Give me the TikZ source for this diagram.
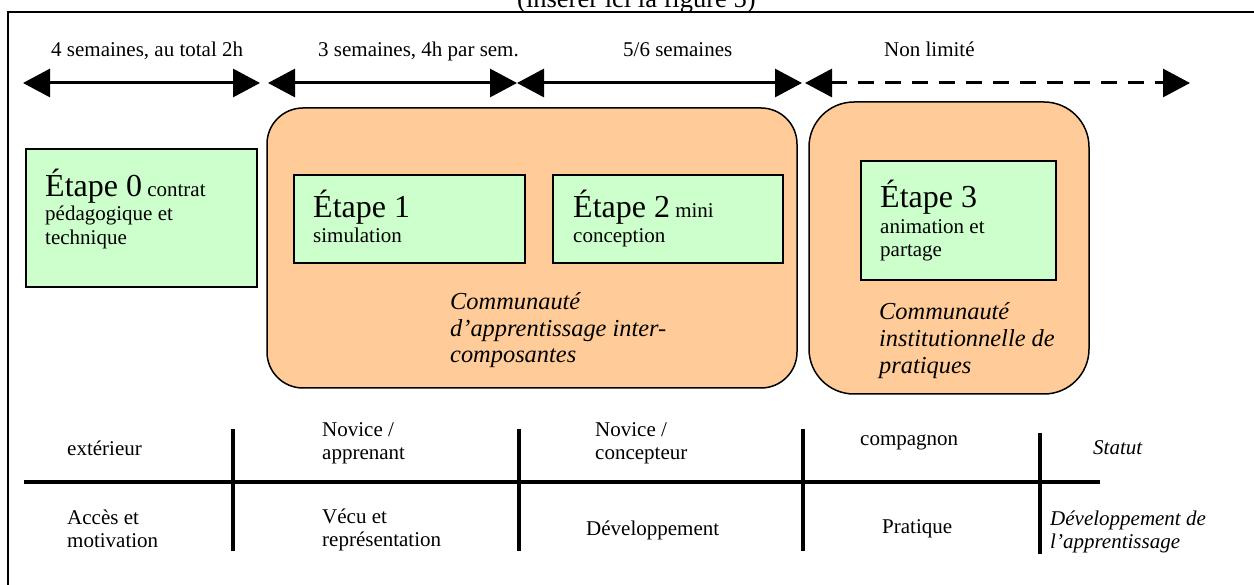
\documentclass[tikz,border=0pt]{standalone}
\usepackage{fontspec}
\setmainfont{Liberation Serif}
\usetikzlibrary{arrows.meta}
\definecolor{boxgreen}{HTML}{CCFFCC}
\definecolor{boxorange}{HTML}{FFCC99}
\newcommand{\EtapeFont}{\fontsize{32}{36}\selectfont}
\tikzset{
  txt/.style={inner sep=0pt, anchor=base west, font=\fontsize{21}{24}\selectfont},
  itxt/.style={inner sep=0pt, anchor=base west, font=\fontsize{21}{24}\selectfont\itshape},
  ctxt/.style={inner sep=0pt, anchor=base west, font=\fontsize{24.4}{27}\selectfont\itshape},
  ttl/.style={inner sep=0pt, anchor=base west, font=\fontsize{26.5}{30}\selectfont},
  stage/.style={draw=black, line width=1.8pt, fill=boxgreen},
  community/.style={draw=black, line width=1.5pt, fill=boxorange},
  span/.style={line width=3pt, {Triangle[length=27pt,width=28pt]}-{Triangle[length=27pt,width=28pt]}},
  divider/.style={line width=3.5pt},
  frameline/.style={line width=1.5pt},
}
\begin{document}
\begin{tikzpicture}[x=1pt,y=-1pt]
\useasboundingbox (0,0) rectangle (1254,585);
% frame
\draw[frameline] (8,12) rectangle (1275,610);
\node[ttl] (title) at (517,7.5) {(insérer ici la figure 5)};
% durations
\node[txt] (d0) at (51,57) {4 semaines, au total 2h};
\node[txt] (d1) at (318,57) {3 semaines, 4h par sem.};
\node[txt] (d2) at (623,57) {5/6 semaines};
\node[txt] (d3) at (884,57) {Non limité};
\coordinate (t0) at (23,83);
\coordinate (t1) at (260,83);
\coordinate (t2) at (268,83);
\coordinate (t3) at (517,83);
\coordinate (t4) at (802,83);
\coordinate (t5) at (805,83);
\coordinate (t6) at (1190,83);
\draw[span] (t0) -- (t1);
\draw[span] (t2) -- (t3);
\draw[span] (t3) -- (t4);
\draw[span, dash pattern=on 16pt off 11pt] (t5) -- (t6);
% communities
\path[community, rounded corners=36pt] (267,108) rectangle (797,388);
\path[community, rounded corners=45pt] (809,102) rectangle (1089,394);
% stages
\path[stage] (26,149) rectangle (257,287);
\path[stage] (294,175) rectangle (525,263);
\path[stage] (553,175) rectangle (783,263);
\path[stage] (861,161) rectangle (1056,280);
\node[txt] (e0a) at (45,197) {{\EtapeFont Étape 0} contrat};
\node[txt] (e0b) at (45,221) {pédagogique et};
\node[txt] (e0c) at (45,245) {technique};
\node[txt] (e1a) at (313,218) {{\EtapeFont Étape 1}};
\node[txt] (e1b) at (313,243) {simulation};
\node[txt] (e2a) at (573,218) {{\EtapeFont Étape 2} mini};
\node[txt] (e2b) at (573,243) {conception};
\node[txt] (e3a) at (880,208) {{\EtapeFont Étape 3}};
\node[txt] (e3b) at (880,234) {animation et};
\node[txt] (e3c) at (880,257) {partage};
\node[ctxt] (c1a) at (450,310) {Communauté};
\node[ctxt] (c1b) at (450,337) {d’apprentissage inter-};
\node[ctxt] (c1c) at (450,363) {composantes};
\node[ctxt] (c2a) at (879,320) {Communauté};
\node[ctxt] (c2b) at (879,347) {institutionnelle de};
\node[ctxt] (c2c) at (879,374) {pratiques};
% bottom table
\draw[line width=4pt] (24,482) -- (1100,482);
\draw[divider] (233,429) -- (233,551);
\draw[divider] (519,429) -- (519,551);
\draw[divider] (803,429) -- (803,551);
\draw[divider] (1040,433) -- (1040,554);
\node[txt] (s0) at (67,456) {extérieur};
\node[txt] (s1a) at (322,437) {Novice /};
\node[txt] (s1b) at (322,460) {apprenant};
\node[txt] (s2a) at (595,437) {Novice /};
\node[txt] (s2b) at (595,460) {concepteur};
\node[txt] (s3) at (860,446) {compagnon};
\node[itxt] (s4) at (1093,454) {Statut};
\node[txt] (p0a) at (67,524) {Accès et};
\node[txt] (p0b) at (67,547) {motivation};
\node[txt] (p1a) at (322,523) {Vécu et};
\node[txt] (p1b) at (322,546) {représentation};
\node[txt] (p2) at (586,535) {Développement};
\node[txt] (p3) at (882,533) {Pratique};
\node[itxt] (p4a) at (1050,525) {Développement de};
\node[itxt] (p4b) at (1050,548) {l’apprentissage};
\end{tikzpicture}
\end{document}
